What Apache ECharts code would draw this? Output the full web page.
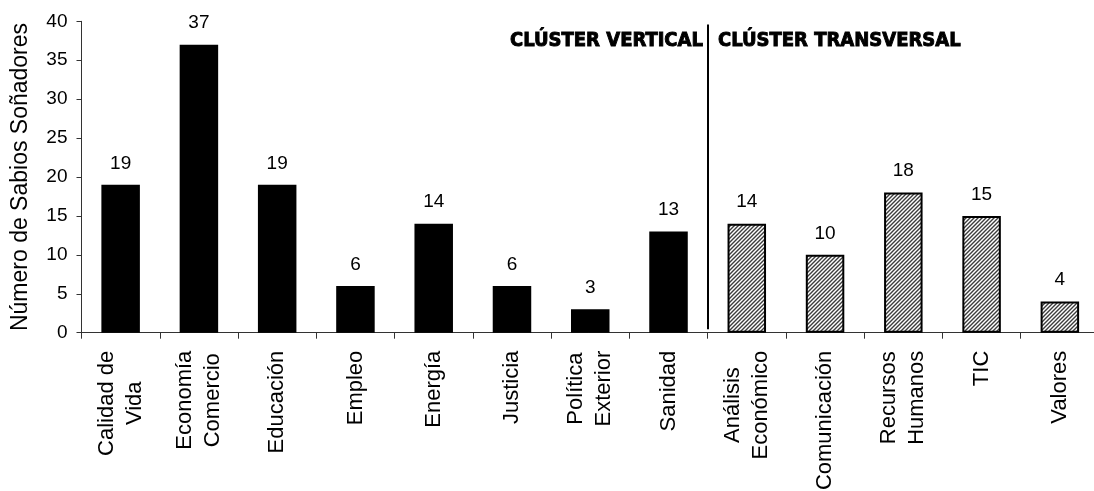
<!DOCTYPE html>
<html><head><meta charset="utf-8">
<script src="https://cdn.jsdelivr.net/npm/echarts@6/dist/echarts.min.js"></script>
<style>html,body{margin:0;padding:0;background:#fff}#c{width:1094px;height:491px}</style>
</head><body><div id="c"></div><script>
// ---- data ----
const categories = ['Calidad de\nVida','Economía\nComercio','Educación','Empleo','Energía','Justicia','Política\nExterior','Sanidad','Análisis\nEconómico','Comunicación','Recursos\nHumanos','TIC','Valores'];
const values = [19,37,19,6,14,6,3,13,14,10,18,15,4];
const clusters = ['V','V','V','V','V','V','V','V','T','T','T','T','T'];
const clusterTitles = ['CLÚSTER VERTICAL','CLÚSTER TRANSVERSAL'];
const yAxisTitle = 'Número de Sabios Soñadores';
const yMin = 0, yMax = 40, yStep = 5;

// ---- hatch pattern ----
function makeHatch(){
  const s = 4, cv = document.createElement('canvas');
  cv.width = s; cv.height = s;
  const g = cv.getContext('2d');
  g.fillStyle = '#fff'; g.fillRect(0,0,s,s);
  g.strokeStyle = '#3c3c3c'; g.lineWidth = 1.4;
  g.beginPath();
  g.moveTo(-1, s+1); g.lineTo(s+1, -1);
  g.moveTo(-1, 1); g.lineTo(1, -1);
  g.moveTo(s-1, s+1); g.lineTo(s+1, s-1);
  g.stroke();
  return cv;
}
const hatch = {image: makeHatch(), repeat: 'repeat'};

const FONT = '"Liberation Sans", Arial, sans-serif';
const TFONT = '"DejaVu Sans Condensed", "Liberation Sans Narrow", sans-serif';
const splitIndex = clusters.filter(c => c === 'V').length;

const barData = values.map((v, i) => ({
  value: v,
  itemStyle: clusters[i] === 'V'
    ? {color: '#000', borderColor: '#000', borderWidth: 2}
    : {color: hatch, borderColor: '#000', borderWidth: 2}
}));

const titleStyle = {fontFamily: TFONT, fontWeight: 'bold', fontSize: 20, color: '#000',
                    textBorderColor: '#000', textBorderWidth: 0.9};

const chart = echarts.init(document.getElementById('c'), null, {renderer: 'canvas'});
chart.setOption({
  animation: false,
  backgroundColor: '#fff',
  title: [
    {text: clusterTitles[0], left: 510, top: 31, padding: 0, textStyle: titleStyle},
    {text: clusterTitles[1], left: 718, top: 31, padding: 0, textStyle: titleStyle}
  ],
  grid: {left: 81.5, top: 21.3, width: 1017.5, height: 311.4, containLabel: false, outerBoundsMode: 'none'},
  xAxis: [{
    type: 'category',
    data: categories,
    boundaryGap: true,
    axisLine: {lineStyle: {color: '#333', width: 1}},
    axisTick: {show: true, length: 6, interval: 0, lineStyle: {color: '#333'}},
    axisLabel: {
      interval: 0, rotate: 90, margin: 18, color: '#000',
      fontFamily: FONT, fontSize: 22, hideOverlap: false,
      formatter: v => v.split('\n').map(l => '{c|' + l + '}').join('\n'),
      rich: {c: {align: 'center', fontFamily: FONT, fontSize: 22, lineHeight: 28, color: '#000'}}
    },
    splitLine: {show: false}
  }, {
    type: 'value', min: 0, max: categories.length, show: false
  }],
  yAxis: {
    type: 'value', min: yMin, max: yMax, interval: yStep,
    name: yAxisTitle, nameLocation: 'middle', nameGap: 49, nameMoveOverlap: false,
    nameTextStyle: {fontFamily: FONT, fontSize: 23, color: '#000'},
    axisLine: {show: true, lineStyle: {color: '#333', width: 1}},
    axisTick: {show: true, length: 5, lineStyle: {color: '#333'}},
    axisLabel: {margin: 14, fontFamily: FONT, fontSize: 19, color: '#000'},
    splitLine: {show: false}
  },
  series: [{
    type: 'bar',
    data: barData,
    barWidth: 38.5,
    label: {show: true, position: 'top', distance: 12, fontFamily: FONT, fontSize: 19, color: '#000'}
  }, {
    type: 'line',
    xAxisIndex: 1,
    data: [],
    silent: true,
    markLine: {
      silent: true, symbol: 'none', animation: false,
      label: {show: false},
      lineStyle: {color: '#000', width: 2, type: 'solid'},
      data: [[{coord: [splitIndex, 0.45]}, {coord: [splitIndex, 39.6]}]]
    }
  }]
});
</script></body></html>
